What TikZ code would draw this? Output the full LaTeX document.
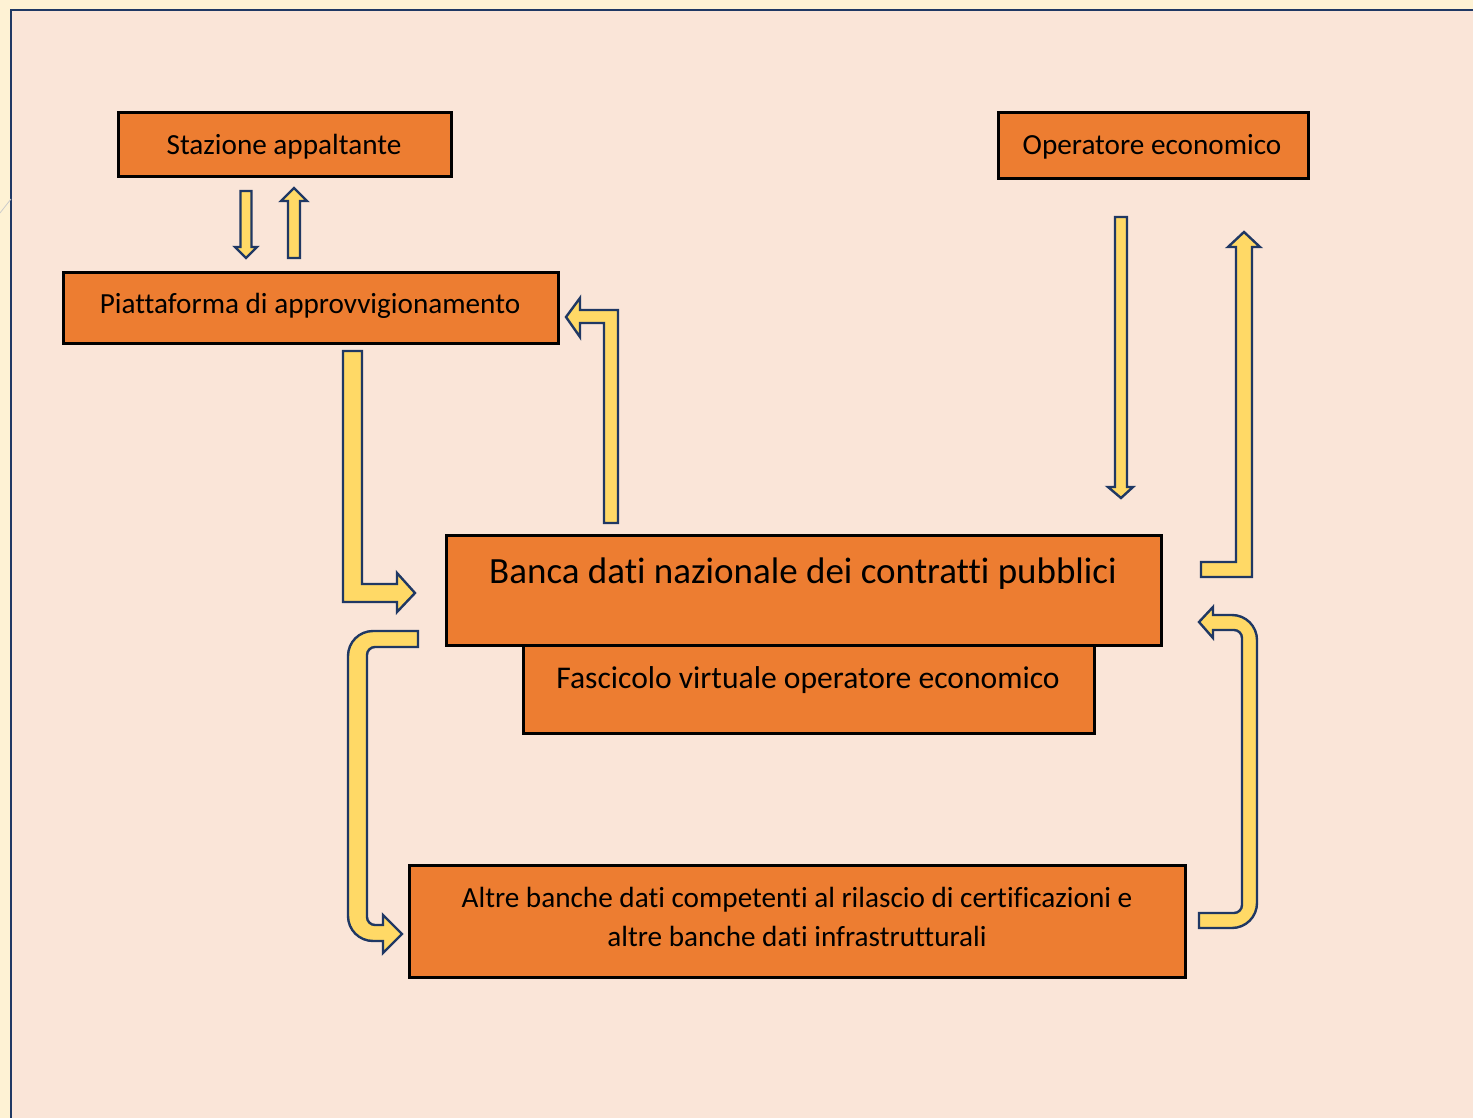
\documentclass[tikz,border=0pt]{standalone}
\usepackage{fontspec}
\setmainfont[Ligatures=NoCommon]{Carlito}
\definecolor{cream}{HTML}{FEF2D4}
\definecolor{panel}{HTML}{FAE5D8}
\definecolor{navy}{HTML}{1F3864}
\definecolor{boxorange}{HTML}{ED7D31}
\definecolor{arrowyellow}{HTML}{FFD966}
\begin{document}
\begin{tikzpicture}[x=0.5pt,y=-0.5pt,
  box/.style={draw=black, line width=1.5pt, fill=boxorange, inner sep=0pt},
  lbl/.style={inner sep=0pt, font=\fontsize{14.6}{19.5}\selectfont, align=center},
  blockarrow/.style={draw=navy, line width=1.2pt, fill=arrowyellow, line join=miter}]
\useasboundingbox (0,0) rectangle (1473,1118);
\fill[cream] (0,0) rectangle (1473,1118);
\draw[navy, line width=1pt, fill=panel] (11,10) rectangle (1490,1135);
\draw[black!20, line width=0.4pt] (0,213) -- (11,199);
% boxes
\node[box, minimum width=166.5pt, minimum height=32pt] (sa) at (284.5,145) {};
\node[box, minimum width=155pt, minimum height=33pt] (oe) at (1153,146) {};
\node[box, minimum width=247.5pt, minimum height=35.5pt] (pa) at (310.5,308.5) {};
\node[box, minimum width=285.5pt, minimum height=44pt] (fv) at (808.5,689) {};
\node[box, minimum width=357.5pt, minimum height=55pt] (bd) at (803.5,590) {};
\node[box, minimum width=388pt, minimum height=56pt] (ab) at (797,921) {};
% texts
\node[lbl] (tsa) at (284,147) {Stazione appaltante};
\node[lbl] (toe) at (1152,147) {Operatore economico};
\node[lbl] (tpa) at (310,306) {Piattaforma di approvvigionamento};
\node[lbl, font=\fontsize{18.5}{22}\selectfont] (tbd) at (803,573.5) {Banca dati nazionale dei contratti pubblici};
\node[lbl, font=\fontsize{15.8}{19}\selectfont] (tfv) at (808,680) {Fascicolo virtuale operatore economico};
\node[lbl] (tab) at (797,916.5) {Altre banche dati competenti al rilascio di certificazioni e\\altre banche dati infrastrutturali};
% arrows
\draw[blockarrow] (240.5,191) -- (251.5,191) -- (251.5,247) -- (257,247) -- (246,258) -- (235,247) -- (240.5,247) -- cycle;
\draw[blockarrow] (288,258) -- (300,258) -- (300,201) -- (307,201) -- (294,188) -- (281,201) -- (288,201) -- cycle;
\draw[blockarrow] (343,351) -- (362,351) -- (362,584) -- (397,584) -- (397,573) -- (415,593) -- (397,612) -- (397,602) -- (343,602) -- cycle;
\draw[blockarrow] (604,523) -- (618,523) -- (618,310) -- (580,310) -- (580,298) -- (566,317) -- (580,337) -- (580,323) -- (604,323) -- cycle;
\draw[blockarrow] (418,631) -- (373,631) .. controls (359.2,631) and (348,642.2) .. (348,656) -- (348,916) .. controls (348,929.8) and (359.2,941) .. (373,941) -- (383,941) -- (383,953) -- (402,934) -- (383,915) -- (383,925) -- (375,925) .. controls (370.6,925) and (367,921.4) .. (367,917) -- (367,655) .. controls (367,650.6) and (370.6,647) .. (375,647) -- (418,647) -- cycle;
\draw[blockarrow] (1199,913) -- (1234,913) .. controls (1238.4,913) and (1242,909.4) .. (1242,905) -- (1242,638) .. controls (1242,633.6) and (1238.4,630) .. (1234,630) -- (1213,630) -- (1213,638) -- (1199,622) -- (1213,607) -- (1213,615) -- (1232,615) .. controls (1245.8,615) and (1257,626.2) .. (1257,640) -- (1257,903) .. controls (1257,916.8) and (1245.8,928) .. (1232,928) -- (1199,928) -- cycle;
\draw[blockarrow] (1115,217) -- (1127,217) -- (1127,487) -- (1133,487) -- (1121,498) -- (1108,487) -- (1115,487) -- cycle;
\draw[blockarrow] (1201,562) -- (1236,562) -- (1236,247) -- (1228,247) -- (1244,232) -- (1260,247) -- (1252,247) -- (1252,577) -- (1201,577) -- cycle;
\end{tikzpicture}
\end{document}
